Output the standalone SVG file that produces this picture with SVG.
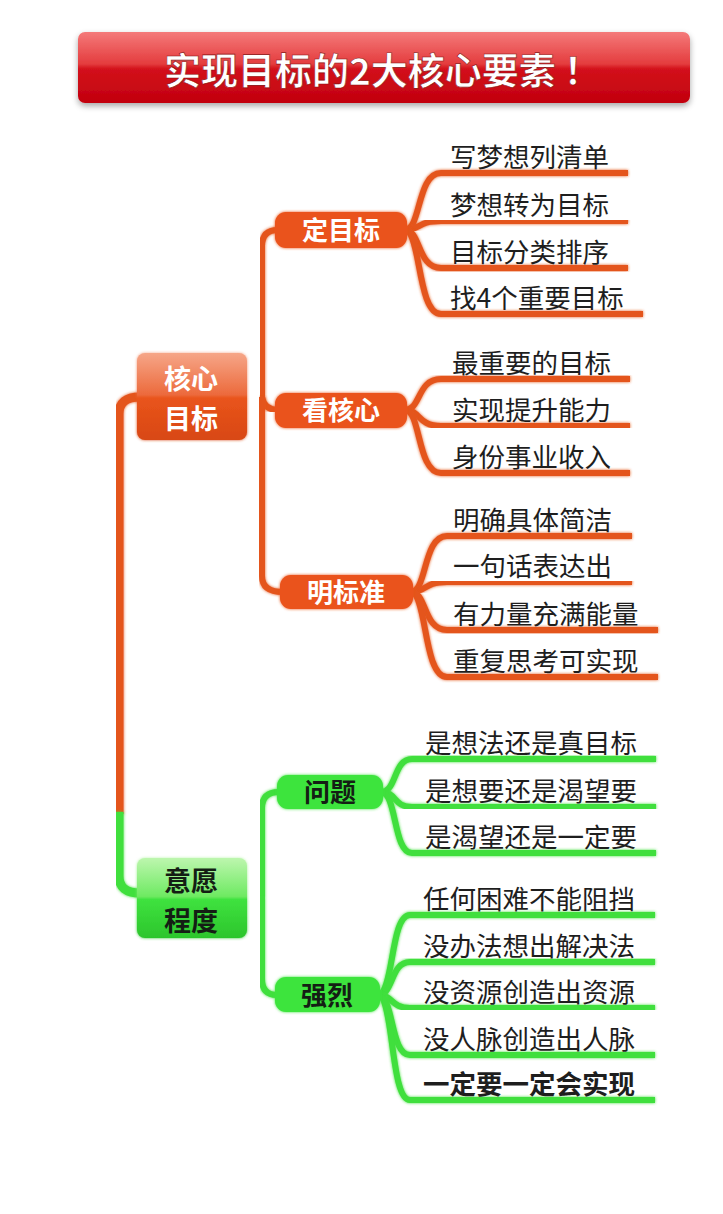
<svg xmlns="http://www.w3.org/2000/svg" width="723" height="1214" viewBox="0 0 723 1214">
<defs>
<linearGradient id="titleG" x1="0" y1="0" x2="0" y2="1">
<stop offset="0" stop-color="#F47A7A"/>
<stop offset="0.45" stop-color="#E43C3E"/>
<stop offset="0.52" stop-color="#D3121B"/>
<stop offset="1" stop-color="#C2000E"/>
</linearGradient>
<linearGradient id="orMain" x1="0" y1="0" x2="0" y2="1">
<stop offset="0" stop-color="#F6A688"/>
<stop offset="0.48" stop-color="#EC6A3C"/>
<stop offset="0.52" stop-color="#E9541C"/>
<stop offset="1" stop-color="#D84812"/>
</linearGradient>
<linearGradient id="grMain" x1="0" y1="0" x2="0" y2="1">
<stop offset="0" stop-color="#BDF6AE"/>
<stop offset="0.48" stop-color="#6EEA62"/>
<stop offset="0.52" stop-color="#3FE23F"/>
<stop offset="1" stop-color="#2CC52C"/>
</linearGradient>
<filter id="glow" x="-10%" y="-10%" width="120%" height="120%">
<feGaussianBlur in="SourceGraphic" stdDeviation="1.6" result="b"/>
<feMerge><feMergeNode in="b"/><feMergeNode in="SourceGraphic"/></feMerge>
</filter>
<filter id="shadow" x="-5%" y="-20%" width="110%" height="150%">
<feGaussianBlur in="SourceAlpha" stdDeviation="3"/>
<feOffset dx="0" dy="3" result="o"/>
<feComponentTransfer><feFuncA type="linear" slope="0.35"/></feComponentTransfer>
<feMerge><feMergeNode/><feMergeNode in="SourceGraphic"/></feMerge>
</filter>
</defs>
<style>
.or{fill:none;stroke:#E4551E;stroke-linecap:butt;stroke-linejoin:round;filter:url(#glow)}
.gr{fill:none;stroke:#40DF3C;stroke-linecap:butt;stroke-linejoin:round;filter:url(#glow)}
.trunk{stroke-width:9}
.br{stroke-width:6}
.leaf{stroke-width:6}
.nodeO{fill:#EA531A;filter:url(#glow)}
.nodeG{fill:#3EE43E;filter:url(#glow)}
.t{font-family:"Noto Sans CJK SC","Noto Sans",sans-serif}
.lt{font-size:26.5px;fill:#1E1E1E;font-weight:400}
.lt.b{font-weight:700}
.nt{font-size:26px;font-weight:700;text-anchor:middle}
.mt{font-size:27px;font-weight:700;text-anchor:middle}
.w{fill:#FFFFFF}
.k{fill:#141E14}
</style>
<rect width="723" height="1214" fill="#FFFFFF"/>

<g id="title">
<rect x="78" y="32" width="612" height="71" rx="7" fill="url(#titleG)" filter="url(#shadow)"/>
<text class="t" x="164" y="85" font-size="37" font-weight="700" fill="#FFFFFF" stroke="#8A1010" stroke-width="0.6">实现目标的2大核心要素<tspan dx="8">！</tspan></text>
</g>

<g id="connectors">
<path class="or trunk" d="M140 397 Q119 397 119 414 L119 814"/>
<path class="gr trunk" d="M119 812 L119 876 Q119 893 140 893"/>
<path class="or br" d="M246 397 L262 397"/>
<path class="or br" d="M262 397 L262 246 Q262 230 278 230"/>
<path class="or br" d="M262 397 Q264 410 278 410"/>
<path class="or br" d="M262 397 L262 576 Q262 592 283 592"/>
<path class="gr br" d="M246 898 L262 898"/>
<path class="gr br" d="M262 898 L262 808 Q262 792 279 792"/>
<path class="gr br" d="M262 898 L262 979 Q262 995 277 995"/>

<path class="or leaf" d="M405 230 C421 230 417 173 441 173 L628 173"/>
<path class="or leaf" d="M405 230 C421 230 417 221 441 221 L628 221"/>
<path class="or leaf" d="M405 230 C421 230 417 268 441 268 L628 268"/>
<path class="or leaf" d="M405 230 C421 230 417 314 441 314 L643 314"/>

<path class="or leaf" d="M405 410 C421 410 417 379 441 379 L630 379"/>
<path class="or leaf" d="M405 410 C421 410 417 426 441 426 L630 426"/>
<path class="or leaf" d="M405 410 C421 410 417 473 441 473 L630 473"/>

<path class="or leaf" d="M411 592 C427 592 423 536 447 536 L632 536"/>
<path class="or leaf" d="M411 592 C427 592 423 582 447 582 L632 582"/>
<path class="or leaf" d="M411 592 C427 592 423 630 447 630 L658 630"/>
<path class="or leaf" d="M411 592 C427 592 423 677 447 677 L658 677"/>

<path class="gr leaf" d="M381 792 C397 792 393 759 412 759 L656 759"/>
<path class="gr leaf" d="M381 792 C397 792 393 807 412 807 L656 807"/>
<path class="gr leaf" d="M381 792 C397 792 393 853 412 853 L656 853"/>

<path class="gr leaf" d="M378 995 C394 995 390 915 410 915 L655 915"/>
<path class="gr leaf" d="M378 995 C394 995 390 962 410 962 L655 962"/>
<path class="gr leaf" d="M378 995 C394 995 390 1008 410 1008 L655 1008"/>
<path class="gr leaf" d="M378 995 C394 995 390 1055 410 1055 L655 1055"/>
<path class="gr leaf" d="M378 995 C394 995 390 1100 410 1100 L655 1100"/>
</g>

<g id="node-hexin">
<rect x="137" y="353" width="110" height="87" rx="8" fill="url(#orMain)" filter="url(#glow)"/>
<text class="t mt w" x="191" y="389">核心</text>
<text class="t mt w" x="191" y="429">目标</text>
</g>
<g id="node-yiyuan">
<rect x="137" y="858" width="110" height="80" rx="8" fill="url(#grMain)" filter="url(#glow)"/>
<text class="t mt k" x="191" y="891">意愿</text>
<text class="t mt k" x="191" y="931">程度</text>
</g>

<g id="node-dingmubiao">
<rect class="nodeO" x="275" y="212" width="132" height="36" rx="11"/>
<text class="t nt w" x="341" y="240">定目标</text>
</g>
<g id="node-kanhexin">
<rect class="nodeO" x="275" y="393" width="132" height="35" rx="11"/>
<text class="t nt w" x="341" y="420">看核心</text>
</g>
<g id="node-mingbiaozhun">
<rect class="nodeO" x="280" y="575" width="133" height="34" rx="11"/>
<text class="t nt w" x="346" y="602">明标准</text>
</g>
<g id="node-wenti">
<rect class="nodeG" x="277" y="775" width="106" height="34" rx="11"/>
<text class="t nt k" x="330" y="802">问题</text>
</g>
<g id="node-qianglie">
<rect class="nodeG" x="275" y="977" width="105" height="35" rx="11"/>
<text class="t nt k" x="327" y="1005">强烈</text>
</g>

<g id="leaves-dingmubiao">
<text class="t lt" x="450" y="167">写梦想列清单</text>
<text class="t lt" x="450" y="215">梦想转为目标</text>
<text class="t lt" x="450" y="262">目标分类排序</text>
<text class="t lt" x="450" y="308">找4个重要目标</text>
</g>
<g id="leaves-kanhexin">
<text class="t lt" x="452" y="373">最重要的目标</text>
<text class="t lt" x="452" y="420">实现提升能力</text>
<text class="t lt" x="452" y="467">身份事业收入</text>
</g>
<g id="leaves-mingbiaozhun">
<text class="t lt" x="453" y="530">明确具体简洁</text>
<text class="t lt" x="453" y="576">一句话表达出</text>
<text class="t lt" x="453" y="624">有力量充满能量</text>
<text class="t lt" x="453" y="671">重复思考可实现</text>
</g>
<g id="leaves-wenti">
<text class="t lt" x="425" y="753">是想法还是真目标</text>
<text class="t lt" x="425" y="801">是想要还是渴望要</text>
<text class="t lt" x="425" y="847">是渴望还是一定要</text>
</g>
<g id="leaves-qianglie">
<text class="t lt" x="423" y="909">任何困难不能阻挡</text>
<text class="t lt" x="423" y="956">没办法想出解决法</text>
<text class="t lt" x="423" y="1002">没资源创造出资源</text>
<text class="t lt" x="423" y="1049">没人脉创造出人脉</text>
<text class="t lt b" x="423" y="1094">一定要一定会实现</text>
</g>
</svg>
